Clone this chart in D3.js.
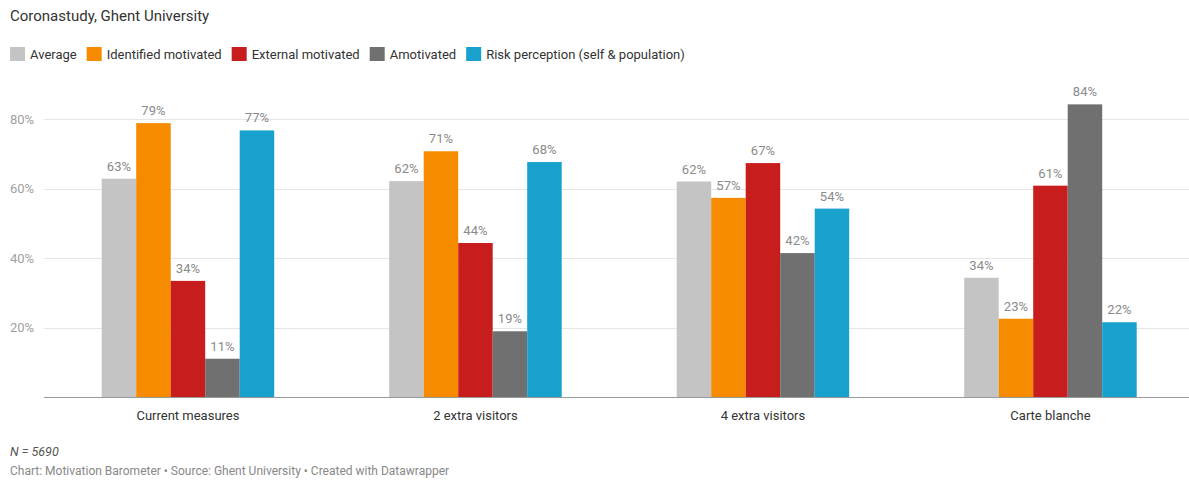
<!DOCTYPE html>
<html>
<head>
<meta charset="utf-8">
<script src="https://cdn.jsdelivr.net/npm/d3@7"></script>
<style>
  html, body { margin: 0; padding: 0; background: #fff; }
  svg { display: block; font-family: Roboto, "Noto Sans", sans-serif; }
</style>
</head>
<body>
<svg id="chart" width="1189" height="481"></svg>
<script>
const categories = ["Current measures", "2 extra visitors", "4 extra visitors", "Carte blanche"];
const seriesNames = ["Average", "Identified motivated", "External motivated", "Amotivated", "Risk perception (self & population)"];
const seriesColors = ["#c4c4c4", "#f68b00", "#c71e1d", "#707070", "#18a1cd"];
const average     = [62.9, 62.2, 62.1, 34.4];
const identified  = [78.9, 70.8, 57.4, 22.6];
const external    = [33.5, 44.4, 67.4, 60.9];
const amotivated  = [11.1, 19.0, 41.5, 84.3];
const risk        = [76.8, 67.7, 54.3, 21.6];
const yTicks = [20, 40, 60, 80];
const title = "Coronastudy, Ghent University";
const note = "N = 5690";
const credit = "Chart: Motivation Barometer \u2022 Source: Ghent University \u2022 Created with Datawrapper";

const seriesValues = [average, identified, external, amotivated, risk];
const data = categories.map((c, i) => ({
  category: c,
  values: seriesNames.map((s, j) => ({ series: s, color: seriesColors[j], value: seriesValues[j][i] }))
}));

const svg = d3.select("#chart");
const W = 1189;

// Title
svg.append("text").attr("x", 10).attr("y", 21)
  .attr("font-size", 15).attr("fill", "#333").text(title);

// Legend
const legend = svg.append("g");
let lx = 10;
seriesNames.forEach((s, j) => {
  const g = legend.append("g").attr("transform", `translate(${lx},0)`);
  g.append("rect").attr("x", 0).attr("y", 47).attr("width", 15).attr("height", 14).attr("fill", seriesColors[j]);
  const t = g.append("text").attr("x", 20).attr("y", 58.5).attr("font-size", 13).attr("fill", "#333").text(s);
  lx += 20 + t.node().getComputedTextLength() + 10;
});

// Scales
const x0 = d3.scaleBand().domain(categories).range([44.2, 1194.2]).paddingInner(0.4).paddingOuter(0.2);
const x1 = d3.scaleBand().domain(seriesNames).range([0, x0.bandwidth()]).padding(0);
const y = d3.scaleLinear().domain([0, 80]).range([397.3, 119.3]);

// Gridlines + y labels
const grid = svg.append("g");
yTicks.forEach(t => {
  grid.append("line").attr("x1", 44).attr("x2", W).attr("y1", Math.round(y(t)) + 0.5).attr("y2", Math.round(y(t)) + 0.5)
    .attr("stroke", "#e6e6e6").attr("stroke-width", 1);
  grid.append("text").attr("x", 10).attr("y", y(t)).attr("dy", "0.35em")
    .attr("font-size", 13).attr("fill", "#a0a0a0").text(t + "%");
});

// Bars
const groups = svg.append("g").selectAll("g").data(data).join("g")
  .attr("transform", d => `translate(${x0(d.category)},0)`);
groups.selectAll("rect").data(d => d.values).join("rect")
  .attr("x", d => x1(d.series))
  .attr("width", x1.bandwidth())
  .attr("y", d => y(d.value))
  .attr("height", d => y(0) - y(d.value))
  .attr("fill", d => d.color);
groups.selectAll("text").data(d => d.values).join("text")
  .attr("x", d => x1(d.series) + x1.bandwidth() / 2)
  .attr("y", d => y(d.value) - 8)
  .attr("text-anchor", "middle")
  .attr("font-size", 13).attr("fill", "#8a8a8a")
  .text(d => Math.round(d.value) + "%");

// Baseline
svg.append("line").attr("x1", 44).attr("x2", W).attr("y1", 397.5).attr("y2", 397.5)
  .attr("stroke", "#999").attr("stroke-width", 1.2);

// Category labels
svg.append("g").selectAll("text").data(categories).join("text")
  .attr("x", d => x0(d) + x0.bandwidth() / 2)
  .attr("y", 419.5)
  .attr("text-anchor", "middle")
  .attr("font-size", 13).attr("fill", "#333")
  .text(d => d);

// Footer
svg.append("text").attr("x", 10).attr("y", 456).attr("font-size", 12.5).attr("font-style", "italic")
  .attr("fill", "#555").text(note);
svg.append("text").attr("x", 10).attr("y", 475).attr("font-size", 12)
  .attr("fill", "#888").text(credit);
</script>
</body>
</html>
